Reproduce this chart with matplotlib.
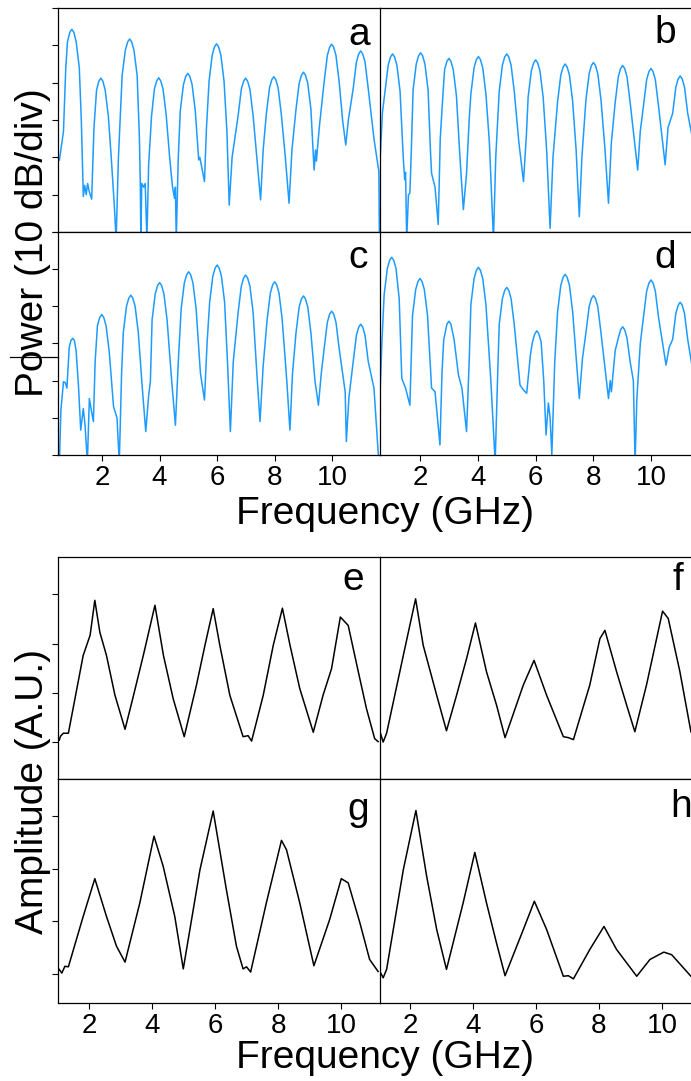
import numpy as np
import matplotlib
matplotlib.use('Agg')
import matplotlib.pyplot as plt
from matplotlib.lines import Line2D

plt.rcParams['font.family'] = ['Liberation Sans', 'DejaVu Sans']

# (frequency GHz, power dB), 10 dB per division
a_pts = [(0.52, -40.7), (0.66, -33), (0.74, -16), (0.80, -9), (0.88, -6.5), (0.95, -5.7), (1.02, -6.5),
         (1.10, -9), (1.21, -16), (1.28, -30), (1.35, -50.5), (1.40, -47.5), (1.45, -50), (1.50, -47),
         (1.55, -49), (1.64, -51.2), (1.72, -32), (1.81, -22), (1.89, -19.6), (1.96, -18.8), (2.03, -19.6),
         (2.11, -22), (2.22, -29), (2.32, -40), (2.42, -52), (2.49, -62), (2.57, -40), (2.70, -18),
         (2.81, -11.3), (2.89, -9.1), (2.96, -8.3), (3.03, -9.1), (3.11, -11.3), (3.22, -18), (3.30, -35),
         (3.33, -47), (3.35, -62), (3.38, -47), (3.45, -48), (3.50, -47), (3.56, -62), (3.62, -42),
         (3.72, -29), (3.82, -21.7), (3.90, -19.5), (3.97, -18.7), (4.04, -19.5), (4.12, -21.7), (4.23, -28.7),
         (4.35, -40), (4.45, -48), (4.52, -51), (4.55, -48), (4.58, -62), (4.65, -40), (4.72, -27.5),
         (4.83, -20.5), (4.91, -18.3), (4.98, -17.5), (5.05, -18.3), (5.13, -20.5), (5.24, -27.5),
         (5.36, -40.7), (5.40, -40), (5.45, -42), (5.56, -46.5), (5.63, -32), (5.72, -19.6), (5.83, -12.6),
         (5.91, -10.4), (5.98, -9.6), (6.05, -10.4), (6.13, -12.6), (6.24, -19.6), (6.34, -33), (6.42, -52.8),
         (6.52, -40), (6.64, -33.6), (6.73, -28.8), (6.84, -21.8), (6.92, -19.6), (6.99, -18.8), (7.06, -19.6),
         (7.14, -21.8), (7.25, -28.8), (7.38, -40), (7.51, -51.4), (7.60, -38), (7.71, -28.4), (7.82, -21.4),
         (7.90, -19.2), (7.97, -18.4), (8.04, -19.2), (8.12, -21.4), (8.23, -28.4), (8.37, -40), (8.50, -52.3),
         (8.60, -38), (8.74, -27.2), (8.85, -20.2), (8.93, -18), (9.00, -17.2), (9.07, -18), (9.15, -20.2),
         (9.26, -27.2), (9.37, -43.4), (9.42, -38), (9.45, -41), (9.55, -32), (9.72, -19.7), (9.83, -12.7),
         (9.91, -10.5), (9.98, -9.7), (10.05, -10.5), (10.13, -12.7), (10.24, -19.7), (10.36, -30),
         (10.47, -36.7), (10.56, -30), (10.73, -21.5), (10.84, -14.5), (10.92, -12.3), (10.99, -11.5),
         (11.06, -12.3), (11.14, -14.5), (11.25, -21.5), (11.45, -35), (11.62, -43.8), (11.64, -62)]

b_pts = [(0.62, -40.7), (0.70, -28), (0.79, -22.3), (0.90, -15.3), (0.98, -13.1), (1.05, -12.3), (1.12, -13.1),
         (1.20, -15.3), (1.31, -22.3), (1.42, -40), (1.47, -46), (1.50, -44), (1.54, -62), (1.60, -50),
         (1.65, -49.6), (1.70, -38), (1.76, -22), (1.87, -15), (1.95, -12.8), (2.02, -12.0), (2.09, -12.8),
         (2.17, -15), (2.28, -22), (2.36, -38), (2.40, -44.3), (2.52, -48), (2.63, -58), (2.70, -35),
         (2.79, -23.5), (2.85, -16.5), (2.93, -14.3), (3.00, -13.5), (3.07, -14.3), (3.15, -16.5), (3.26, -23.5),
         (3.38, -39.8), (3.50, -54), (3.61, -44.3), (3.70, -30), (3.76, -23), (3.87, -16), (3.95, -13.8),
         (4.02, -13), (4.09, -13.8), (4.17, -16), (4.28, -23), (4.40, -36), (4.54, -62), (4.62, -40),
         (4.74, -22.3), (4.85, -15.3), (4.93, -13.1), (5.00, -12.3), (5.07, -13.1), (5.15, -15.3), (5.26, -22.3),
         (5.42, -36), (5.58, -46.5), (5.68, -34), (5.74, -23.9), (5.85, -16.9), (5.93, -14.7), (6.00, -13.9),
         (6.07, -14.7), (6.15, -16.9), (6.26, -23.9), (6.38, -38), (6.50, -59), (6.60, -40), (6.76, -25),
         (6.87, -18), (6.95, -15.8), (7.02, -15), (7.09, -15.8), (7.17, -18), (7.28, -25), (7.40, -38),
         (7.51, -55.9), (7.60, -40), (7.74, -24.6), (7.85, -17.6), (7.93, -15.4), (8.00, -14.6), (8.07, -15.4),
         (8.15, -17.6), (8.26, -24.6), (8.40, -38), (8.52, -52.3), (8.62, -36), (8.75, -25.4), (8.86, -18.4),
         (8.94, -16.2), (9.01, -15.4), (9.08, -16.2), (9.16, -18.4), (9.27, -25.4), (9.53, -43.4), (9.62, -33),
         (9.73, -26.2), (9.84, -19.2), (9.92, -17), (9.99, -16.2), (10.06, -17), (10.14, -19.2), (10.25, -26.2),
         (10.48, -42), (10.58, -32), (10.74, -28.2), (10.85, -21.2), (10.93, -19), (11.00, -18.2), (11.07, -19),
         (11.15, -21.2), (11.26, -28.2), (11.45, -36), (11.72, -42)]

c_pts = [(0.52, -62), (0.57, -48), (0.66, -40.3), (0.72, -40.5), (0.78, -42), (0.86, -31), (0.92, -29.2),
         (0.98, -28.6), (1.04, -29.2), (1.10, -32), (1.18, -41.2), (1.26, -53.3), (1.35, -47.5), (1.41, -52),
         (1.49, -62), (1.56, -44.8), (1.64, -48.5), (1.70, -51), (1.76, -35), (1.84, -25.2), (1.92, -23),
         (1.99, -22.2), (2.06, -23), (2.14, -25.2), (2.25, -32.2), (2.40, -47), (2.52, -50), (2.60, -62),
         (2.68, -38), (2.74, -27), (2.85, -20), (2.93, -17.8), (3.00, -17), (3.07, -17.8), (3.15, -20),
         (3.26, -27), (3.40, -42), (3.52, -53.7), (3.62, -44), (3.68, -40.3), (3.74, -23.6), (3.85, -16.6),
         (3.93, -14.4), (4.00, -13.6), (4.07, -14.4), (4.15, -16.6), (4.26, -23.6), (4.42, -40), (4.55, -52),
         (4.65, -35), (4.75, -20.7), (4.86, -13.7), (4.94, -11.5), (5.01, -10.7), (5.08, -11.5), (5.16, -13.7),
         (5.27, -20.7), (5.42, -38), (5.56, -45.2), (5.65, -30), (5.74, -18.9), (5.85, -11.9), (5.93, -9.7),
         (6.00, -8.9), (6.07, -9.7), (6.15, -11.9), (6.26, -18.9), (6.36, -35), (6.46, -53.7), (6.56, -35),
         (6.73, -21.6), (6.84, -14.6), (6.92, -12.4), (6.99, -11.6), (7.06, -12.4), (7.14, -14.6), (7.25, -21.6),
         (7.38, -38), (7.49, -51), (7.60, -36), (7.74, -23.4), (7.85, -16.4), (7.93, -14.2), (8.00, -13.4),
         (8.07, -14.2), (8.15, -16.4), (8.26, -23.4), (8.42, -40), (8.53, -53.3), (8.62, -38), (8.74, -27.2),
         (8.85, -20.2), (8.93, -18), (9.00, -17.2), (9.07, -18), (9.15, -20.2), (9.26, -27.2), (9.40, -40),
         (9.52, -46.6), (9.62, -38), (9.72, -31.3), (9.83, -24.3), (9.91, -22.1), (9.98, -21.3), (10.05, -22.1),
         (10.13, -24.3), (10.24, -31.3), (10.45, -43), (10.49, -56.4), (10.58, -44.5), (10.73, -34.8),
         (10.84, -27.8), (10.92, -25.6), (10.99, -24.8), (11.06, -25.6), (11.14, -27.8), (11.25, -34.8),
         (11.45, -42), (11.62, -62)]

d_pts = [(0.62, -43), (0.68, -30), (0.76, -16.8), (0.87, -9.8), (0.95, -7.6), (1.02, -6.8), (1.09, -7.6),
         (1.17, -9.8), (1.28, -18), (1.37, -39.4), (1.50, -42), (1.65, -46.6), (1.74, -22.5), (1.85, -15.5),
         (1.93, -13.3), (2.00, -12.5), (2.07, -13.3), (2.15, -15.5), (2.26, -22.5), (2.40, -42), (2.52, -43),
         (2.69, -57.3), (2.76, -38), (2.82, -29), (2.93, -24.8), (3.00, -24), (3.07, -24.8), (3.18, -29),
         (3.33, -38.5), (3.45, -42), (3.61, -53.7), (3.70, -35), (3.76, -19.5), (3.87, -12.5), (3.95, -10.3),
         (4.02, -9.5), (4.09, -10.3), (4.17, -12.5), (4.28, -19.5), (4.45, -40), (4.60, -62), (4.68, -40),
         (4.74, -24.9), (4.85, -17.9), (4.93, -15.7), (5.00, -14.9), (5.07, -15.7), (5.15, -17.9), (5.26, -24.9),
         (5.46, -41.2), (5.58, -42.5), (5.69, -43.4), (5.82, -33), (5.89, -29.6), (5.97, -27.4), (6.04, -26.6),
         (6.11, -27.4), (6.19, -29.6), (6.28, -40), (6.36, -54.6), (6.44, -46), (6.50, -50), (6.56, -60),
         (6.66, -35), (6.76, -21.4), (6.87, -14.4), (6.95, -12.2), (7.02, -11.4), (7.09, -12.2), (7.17, -14.4),
         (7.28, -21.4), (7.51, -44.8), (7.62, -34), (7.74, -27.1), (7.85, -20.1), (7.93, -17.9), (8.00, -17.1),
         (8.07, -17.9), (8.15, -20.1), (8.26, -27.1), (8.52, -44.8), (8.58, -40), (8.62, -43), (8.75, -32),
         (8.86, -28.5), (8.94, -26.3), (9.01, -25.5), (9.08, -26.3), (9.16, -28.5), (9.27, -35), (9.38, -40),
         (9.44, -62), (9.50, -45), (9.62, -30), (9.73, -22.9), (9.84, -15.9), (9.92, -13.7), (9.99, -12.9),
         (10.06, -13.7), (10.14, -15.9), (10.25, -22.9), (10.51, -35.8), (10.62, -31), (10.74, -28.9),
         (10.85, -21.9), (10.93, -19.7), (11.00, -18.9), (11.07, -19.7), (11.15, -21.9), (11.26, -28.9),
         (11.45, -38), (11.72, -45)]

# (frequency GHz, amplitude A.U.) for the lower traces
e_pts = [(1.04, 0.04), (1.08, 0.12), (1.17, 0.18), (1.33, 0.18), (1.80, 1.76), (2.02, 2.17), (2.17, 2.88),
         (2.33, 2.23), (2.54, 1.76), (2.81, 0.95), (3.13, 0.26), (3.40, 0.95), (3.71, 1.76), (4.08, 2.78),
         (4.35, 1.76), (4.66, 0.88), (5.01, 0.11), (5.40, 1.16), (5.67, 1.97), (5.93, 2.71), (6.14, 1.97),
         (6.46, 0.95), (6.88, 0.11), (7.04, 0.13), (7.15, 0.02), (7.52, 0.95), (7.84, 1.97), (8.13, 2.72),
         (8.37, 1.97), (8.68, 1.09), (9.11, 0.20), (9.42, 0.95), (9.69, 1.49), (9.97, 2.54), (10.22, 2.37),
         (10.54, 1.43), (10.80, 0.68), (11.06, 0.07), (11.17, 0.01)]

f_pts = [(1.05, 0.21), (1.15, 0.0), (1.26, 0.18), (1.79, 1.76), (2.18, 2.91), (2.42, 1.97), (2.85, 0.95),
         (3.16, 0.23), (3.48, 0.95), (3.80, 1.70), (4.08, 2.42), (4.43, 1.43), (4.75, 0.75), (5.02, 0.09),
         (5.60, 1.16), (5.94, 1.66), (6.34, 0.95), (6.87, 0.11), (7.03, 0.09), (7.19, 0.05), (7.71, 1.16),
         (8.03, 2.10), (8.19, 2.27), (8.56, 1.43), (8.88, 0.75), (9.14, 0.21), (9.51, 1.16), (9.83, 2.10),
         (10.02, 2.66), (10.20, 2.51), (10.57, 1.43), (10.92, 0.21), (11.05, 0.05)]

g_pts = [(1.04, 0.08), (1.12, 0.01), (1.22, 0.14), (1.33, 0.13), (1.80, 1.09), (2.17, 1.81), (2.54, 1.09),
         (2.86, 0.52), (3.13, 0.22), (3.60, 1.35), (4.05, 2.62), (4.34, 2.05), (4.71, 1.09), (4.98, 0.09),
         (5.51, 1.98), (5.93, 3.10), (6.35, 1.60), (6.67, 0.52), (6.88, 0.09), (6.99, 0.13), (7.12, 0.03),
         (7.62, 1.35), (8.10, 2.54), (8.26, 2.36), (8.68, 1.35), (9.13, 0.15), (9.63, 1.03), (10.00, 1.81),
         (10.22, 1.73), (10.59, 0.97), (10.90, 0.27), (11.17, 0.04)]

h_pts = [(1.05, 0.04), (1.15, -0.08), (1.26, 0.08), (1.79, 1.98), (2.19, 3.11), (2.53, 1.86), (2.85, 0.84),
         (3.16, 0.08), (3.69, 1.35), (4.06, 2.31), (4.43, 1.35), (4.75, 0.58), (5.02, -0.04), (5.60, 0.84),
         (5.95, 1.38), (6.34, 0.84), (6.87, -0.05), (7.03, -0.04), (7.19, -0.10), (7.71, 0.46), (8.16, 0.90),
         (8.56, 0.46), (9.20, -0.05), (9.62, 0.27), (10.06, 0.41), (10.31, 0.36), (10.92, -0.05), (11.20, -0.10)]

x_ticks = [2, 4, 6, 8, 10]
W, H = 691, 1081
BLUE = '#1e9bff'


def px_box(x0, y0, x1, y1):
    return [x0 / W, 1 - y1 / H, (x1 - x0) / W, (y1 - y0) / H]


def make_panel(fig, box, pts, xlim, ylim, yticks, color, show_x, left_col):
    ax = fig.add_axes(px_box(*box))
    data = np.array(pts).T
    ax.plot(data[0], data[1], color=color, lw=1.1)
    ax.set_xlim(xlim)
    ax.set_ylim(ylim)
    for sp in ax.spines.values():
        sp.set_linewidth(0.9)
    ax.tick_params(direction='out', length=4, width=0.8, labelsize=20, pad=3)
    if show_x:
        ax.set_xticks(x_ticks)
    else:
        ax.set_xticks([])
    if left_col:
        ax.set_yticks(yticks)
        ax.set_yticklabels([])
        # the right-hand panel's left spine draws the shared border
        ax.spines['right'].set_visible(False)
    else:
        ax.set_yticks([])
    return ax


fig = plt.figure(figsize=(W / 100, H / 100), dpi=100)

db_ticks = [-60, -50, -40, -30, -20, -10, 0]
make_panel(fig, (58, 8, 380, 232), a_pts, (0.47, 11.66), (-60, 0), db_ticks, BLUE, False, True)
make_panel(fig, (380, 8, 701, 232), b_pts, (0.616, 11.72), (-60, 0), db_ticks, BLUE, False, False)
make_panel(fig, (58, 232, 380, 455), c_pts, (0.47, 11.66), (-60, 0), db_ticks, BLUE, True, True)
make_panel(fig, (380, 232, 701, 455), d_pts, (0.616, 11.72), (-60, 0), db_ticks, BLUE, True, False)

amp_ticks = [0, 1, 2, 3]
make_panel(fig, (58, 557, 380, 779), e_pts, (1.0, 11.23), (-0.75, 3.76), amp_ticks, 'k', False, True)
make_panel(fig, (380, 557, 701, 779), f_pts, (1.05, 11.24), (-0.75, 3.76), amp_ticks, 'k', False, False)
make_panel(fig, (58, 779, 380, 1003), g_pts, (1.0, 11.23), (-0.56, 3.71), amp_ticks, 'k', True, True)
make_panel(fig, (380, 779, 701, 1003), h_pts, (1.05, 11.24), (-0.56, 3.71), amp_ticks, 'k', True, False)

# panel letters
letters = [('a', 359, 45), ('b', 665, 43), ('c', 358, 268), ('d', 665, 268),
           ('e', 353, 590), ('f', 678, 590), ('g', 358, 820), ('h', 681, 817)]
for txt, x, y in letters:
    fig.text(x / W, 1 - y / H, txt, fontsize=28, ha='center', va='baseline')

fig.text(385 / W, 1 - 524 / H, 'Frequency (GHz)', fontsize=28, ha='center', va='baseline')
fig.text(385 / W, 1 - 1068 / H, 'Frequency (GHz)', fontsize=28, ha='center', va='baseline')
fig.text(33 / W, 1 - 243 / H, 'Power (10 dB/div)', fontsize=28, rotation=90, ha='center', va='center')
fig.text(33 / W, 1 - 792 / H, 'Amplitude (A.U.)', fontsize=28, rotation=90, ha='center', va='center')

# stray tick line crossing the power label
fig.add_artist(Line2D([10 / W, 58 / W], [1 - 357 / H, 1 - 357 / H], color='k', lw=0.9))

plt.savefig('out.png', dpi=100)
